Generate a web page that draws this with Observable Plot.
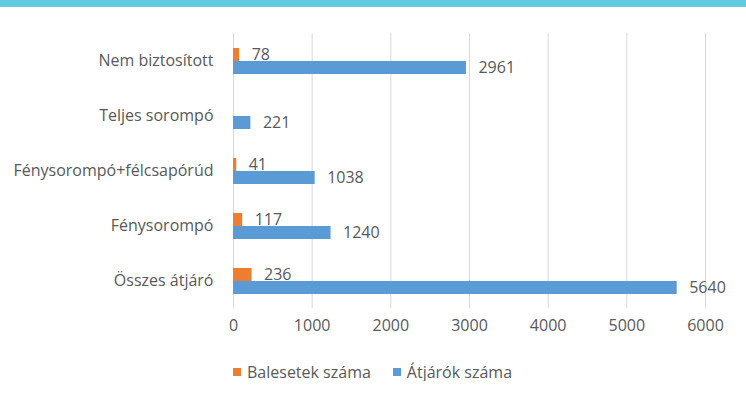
<!DOCTYPE html>
<html><head><meta charset="utf-8">
<script src="https://cdn.jsdelivr.net/npm/d3@7"></script>
<script src="https://cdn.jsdelivr.net/npm/@observablehq/plot@0.6"></script>
<style>
body{margin:0;background:#fff;font-family:"Open Sans",sans-serif;color:#595959;}
#band{height:7px;background:#62CBDF;}
#legend{display:flex;align-items:center;margin-top:16px;padding-left:233px;font-size:16px;line-height:18px;}
#legend .item{display:flex;align-items:center;margin-right:22px;}
#legend .sw{width:8px;height:8px;margin-right:6px;}
</style></head><body>
<div id="band"></div>
<div id="chart"></div>
<div id="legend"></div>
<script>
const categories = ["Nem biztosított","Teljes sorompó","Fénysorompó+félcsapórúd","Fénysorompó","Összes átjáró"];
const series = ["Balesetek száma","Átjárók száma"];
const balesetek = [78, null, 41, 117, 236];
const atjarok = [2961, 221, 1038, 1240, 5640];
const xTicks = [0,1000,2000,3000,4000,5000,6000];
const colors = ["#ED7D31","#5B9BD5"];

const data = categories.flatMap((c,i)=>[
  {category:c, series:series[0], value:balesetek[i]},
  {category:c, series:series[1], value:atjarok[i]}
]).filter(d=>d.value!=null);

const chart = Plot.plot({
  width:746, height:340,
  marginLeft:233, marginRight:41, marginTop:24, marginBottom:38,
  style:{fontFamily:"Open Sans", fontSize:"16px", color:"#595959", background:"transparent"},
  x:{domain:[0,6000], label:null},
  y:{domain:series, paddingInner:0, paddingOuter:1, axis:null},
  fy:{domain:categories, padding:0, label:null, axis:null},
  color:{domain:series, range:colors},
  marks:[
    Plot.gridX(xTicks,{stroke:"#d9d9d9", strokeOpacity:1}),
    Plot.axisX(xTicks,{tickSize:0, tickPadding:11, label:null, fill:"#595959", tickFormat:d=>String(d)}),
    Plot.axisFy({anchor:"left", tickSize:0, tickPadding:20, label:null, fill:"#595959"}),
    Plot.barX(data,{x:"value", y:"series", fy:"category", fill:"series"}),
    Plot.text(data,{x:"value", y:"series", fy:"category", text:d=>String(d.value), dx:12, textAnchor:"start", fill:"#595959"})
  ]
});
document.getElementById("chart").append(chart);

const legend = document.getElementById("legend");
series.forEach((s,i)=>{
  const item = document.createElement("div"); item.className="item";
  const sw = document.createElement("div"); sw.className="sw"; sw.style.background=colors[i];
  const t = document.createElement("span"); t.textContent=s;
  item.append(sw,t); legend.append(item);
});
</script>
</body></html>
